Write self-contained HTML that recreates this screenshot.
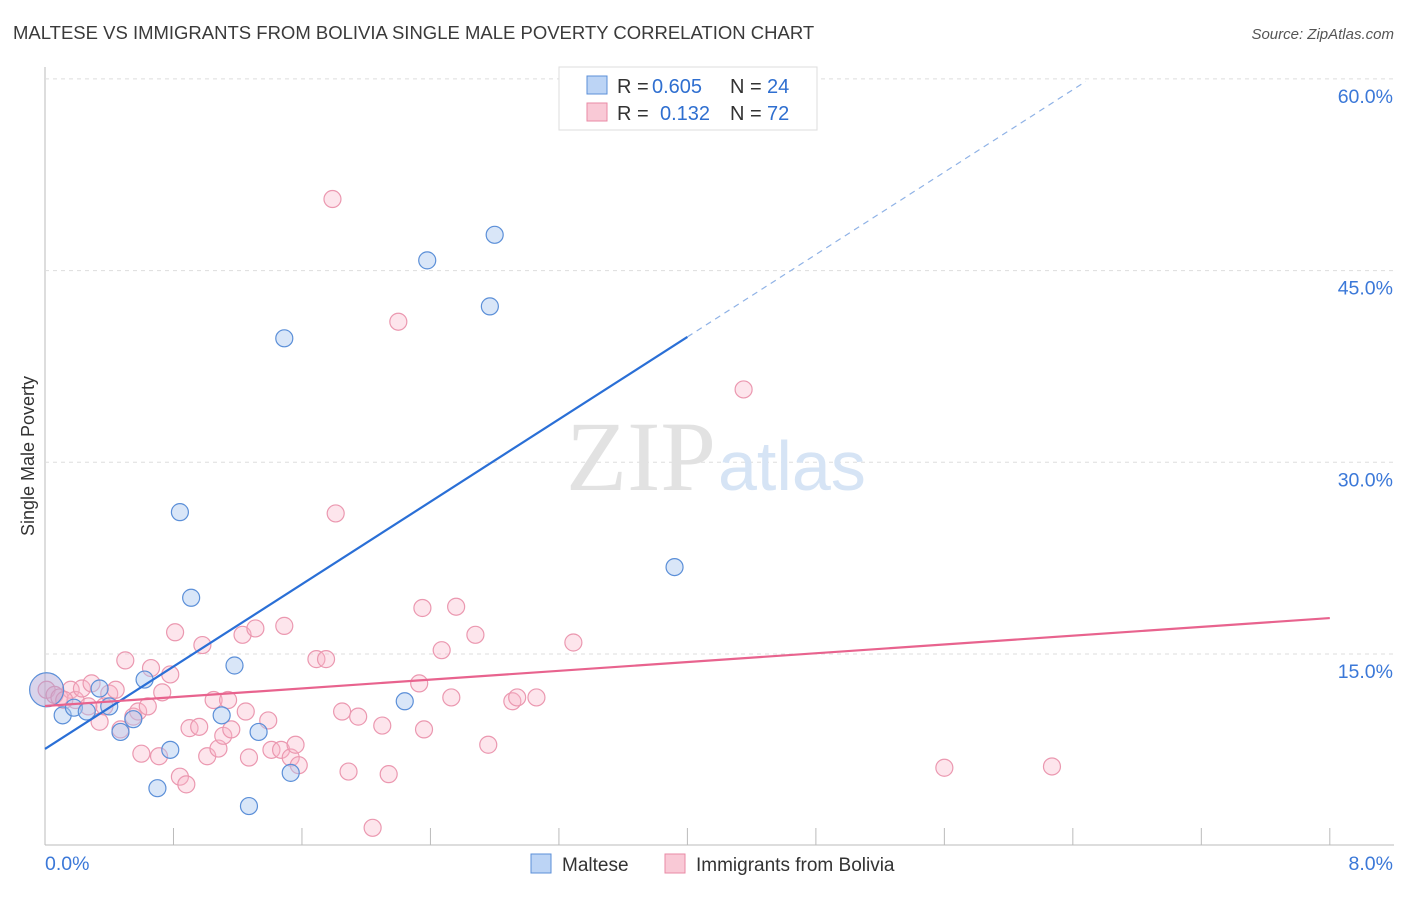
<!DOCTYPE html>
<html><head><meta charset="utf-8"><style>
body{margin:0;background:#fff;font-family:"Liberation Sans",sans-serif}
</style></head><body>
<svg id="chart" width="1406" height="892" font-family="Liberation Sans, sans-serif">
<text x="13" y="39" font-size="18.5" fill="#3a3a3a">MALTESE VS IMMIGRANTS FROM BOLIVIA SINGLE MALE POVERTY CORRELATION CHART</text>
<text x="1394" y="39" font-size="15" fill="#555" font-style="italic" text-anchor="end">Source: ZipAtlas.com</text>
<text x="34" y="456" font-size="18" fill="#333" text-anchor="middle" transform="rotate(-90 34 456)">Single Male Poverty</text>
<g id="grid"></g>
<text x="716" y="490" font-size="100" fill="#e2e2e2" text-anchor="end" style="font-family:'Liberation Serif',serif">ZIP</text>
<text x="718" y="490" font-size="70" fill="#d6e4f5">atlas</text>
<g id="marks"></g>
<g id="legend">
<rect x="559" y="67" width="258" height="63" fill="#fff" stroke="#ddd"/>
<rect x="587" y="76" width="20" height="18" fill="#bcd4f5" stroke="#5b8fd8"/>
<text x="617" y="93" font-size="20" fill="#333">R =</text>
<text x="652" y="93" font-size="20" fill="#2f6fd0">0.605</text>
<text x="730" y="93" font-size="20" fill="#333">N =</text>
<text x="767" y="93" font-size="20" fill="#2f6fd0">24</text>
<rect x="587" y="103" width="20" height="18" fill="#f9c9d6" stroke="#e98aa5"/>
<text x="617" y="120" font-size="20" fill="#333">R =</text>
<text x="660" y="120" font-size="20" fill="#2f6fd0">0.132</text>
<text x="730" y="120" font-size="20" fill="#333">N =</text>
<text x="767" y="120" font-size="20" fill="#2f6fd0">72</text>
</g>
<g>
<rect x="531" y="854" width="20" height="19" fill="#bcd4f5" stroke="#5b8fd8"/>
<text x="562" y="871" font-size="19" fill="#333">Maltese</text>
<rect x="665" y="854" width="20" height="19" fill="#f9c9d6" stroke="#e98aa5"/>
<text x="696" y="871" font-size="19" fill="#333">Immigrants from Bolivia</text>
</g>
</svg>
<script>
const xTicks=[0,0.8,1.6,2.4,3.2,4.0,4.8,5.6,6.4,7.2,8.0];
const yTicks=[15,30,45,60];
const yTickLabels=["15.0%","30.0%","45.0%","60.0%"];
const xEndLabels=["0.0%","8.0%"];
const malteseX=[0.01,0.11,0.18,0.26,0.34,0.40,0.47,0.55,0.62,0.70,0.78,0.84,0.91,1.10,1.18,1.27,1.33,1.49,1.53,2.24,2.38,2.77,2.80,3.92];
const malteseY=[12.2,10.2,10.8,10.5,12.3,10.9,8.9,9.9,13.0,4.5,7.5,26.1,19.4,10.2,14.1,3.1,8.9,39.7,5.7,11.3,45.8,42.2,47.8,21.8];
const boliviaX=[0.01,0.06,0.09,0.16,0.19,0.23,0.29,0.34,0.37,0.40,0.44,0.47,0.50,0.55,0.58,0.60,0.64,0.66,0.71,0.73,0.78,0.81,0.84,0.88,0.90,0.96,0.98,1.01,1.05,1.08,1.11,1.14,1.16,1.23,1.25,1.27,1.31,1.39,1.41,1.47,1.49,1.53,1.56,1.58,1.69,1.75,1.81,1.79,1.85,1.89,1.95,2.04,2.10,2.14,2.20,2.33,2.35,2.36,2.47,2.53,2.56,2.68,2.76,2.91,2.94,3.06,3.29,4.35,5.60,6.27,0.12,0.27];
const boliviaY=[12.2,11.8,11.6,12.2,11.4,12.3,12.7,9.7,10.9,11.9,12.2,9.1,14.5,10.1,10.5,7.2,10.9,13.9,7.0,12.0,13.4,16.7,5.4,4.8,9.2,9.3,15.7,7.0,11.4,7.6,8.6,11.4,9.1,16.5,10.5,6.9,17.0,9.8,7.5,7.5,17.2,6.9,7.9,6.3,14.6,14.6,26.0,50.6,10.5,5.8,10.1,1.4,9.4,5.6,41.0,12.7,18.6,9.1,15.3,11.6,18.7,16.5,7.9,11.3,11.6,11.6,15.9,35.7,6.1,6.2,11.4,10.9];
const blueTrend=[7.57,8.06];
const blueSolidEnd=4.0, blueDashEnd=6.48;
const pinkTrend=[10.93,0.86];
const NS="http://www.w3.org/2000/svg";
const sx=v=>45+v*160.6, sy=v=>845.7-v*12.78;
function mk(t,a,p){const e=document.createElementNS(NS,t);for(const k in a)e.setAttribute(k,a[k]);p.appendChild(e);return e;}
const grid=document.getElementById('grid'),marks=document.getElementById('marks');
let ax=mk('line',{x1:45,y1:67,x2:45,y2:845,stroke:'#bbb'},grid);

let bx=mk('line',{x1:45,y1:845,x2:1394,y2:845,stroke:'#bbb'},grid);

yTicks.forEach((v,i)=>{
 let g=mk('line',{x1:45,x2:1394,y1:sy(v),y2:sy(v),stroke:'#ddd','stroke-dasharray':'4 4'},grid);
 
 let t=mk('text',{x:1393,y:sy(v)+24,'font-size':19.5,fill:'#3b78d8','text-anchor':'end'},grid);t.textContent=yTickLabels[i];
 
});
xTicks.slice(1).forEach(v=>{let l=mk('line',{x1:sx(v),x2:sx(v),y1:828,y2:845,stroke:'#bbb'},grid);
 });
let t0=mk('text',{x:45,y:870,'font-size':19.5,fill:'#3b78d8'},grid);t0.textContent=xEndLabels[0];

let t1=mk('text',{x:1393,y:870,'font-size':19.5,fill:'#3b78d8','text-anchor':'end'},grid);t1.textContent=xEndLabels[1];

boliviaX.forEach((x,i)=>{let c=mk('circle',{cx:sx(x),cy:sy(boliviaY[i]),r:8.5,fill:'rgba(248,180,200,0.35)',stroke:'#eb98b0','stroke-width':1.2},marks);
 });
malteseX.forEach((x,i)=>{let c=mk('circle',{cx:sx(x),cy:sy(malteseY[i]),r:i==0?17:8.5,fill:i==0?'rgba(170,160,210,0.45)':'rgba(170,200,240,0.45)',stroke:'#5b8fd8','stroke-width':1.2},marks);
 });
let bl=mk('line',{x1:sx(0),y1:sy(blueTrend[0]),x2:sx(blueSolidEnd),y2:sy(blueTrend[0]+blueTrend[1]*blueSolidEnd),stroke:'#2a6fd6','stroke-width':2.2},marks);

let bd=mk('line',{x1:sx(blueSolidEnd),y1:sy(blueTrend[0]+blueTrend[1]*blueSolidEnd),x2:sx(blueDashEnd),y2:sy(blueTrend[0]+blueTrend[1]*blueDashEnd),stroke:'#8fb2e6','stroke-width':1.2,'stroke-dasharray':'6 5'},marks);

let pl=mk('line',{x1:sx(0),y1:sy(pinkTrend[0]),x2:sx(8),y2:sy(pinkTrend[0]+pinkTrend[1]*8),stroke:'#e8638e','stroke-width':2.2},marks);

</script>
</body></html>
